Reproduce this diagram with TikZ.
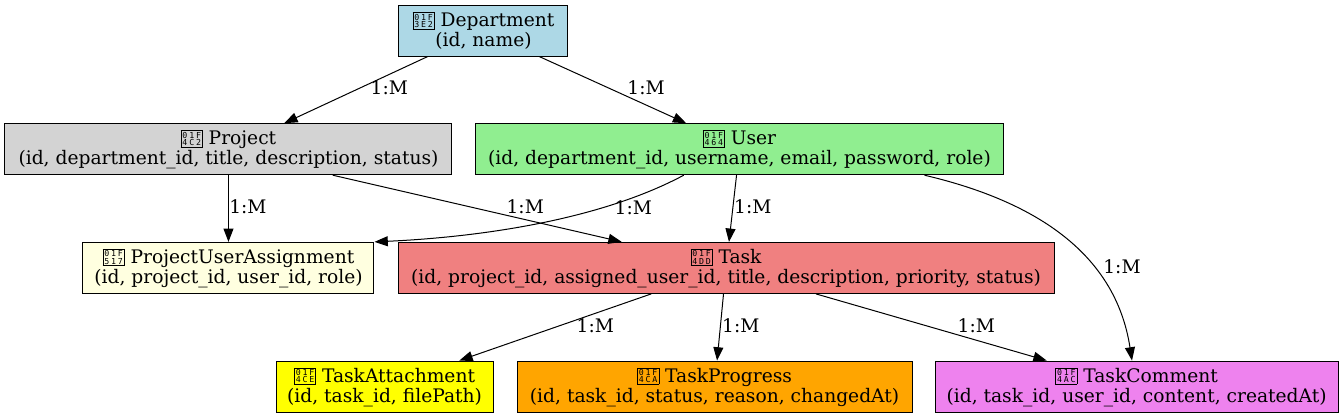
\documentclass[tikz,border=0pt]{standalone}
\usepackage{fontspec}
\setmainfont{DejaVu Serif}
\newfontfamily\tofufont[LetterSpace=22]{DejaVu Sans Mono}
\usetikzlibrary{arrows.meta}
\newcommand{\tofu}[2]{\rule{0pt}{11.5pt}\smash{\raisebox{-0.5pt}{\fboxsep=0.8pt\fboxrule=0.5pt\fbox{\vbox{\baselineskip=5.4pt\tofufont\fontsize{6.2}{5.4}\selectfont\hbox{#1}\hbox{#2}}}}}}
\tikzstyle{entity}=[rectangle,
	draw=black,
	line width=0.75pt,
	minimum height=38.25pt,
	inner sep=0pt,
	align=center,
	font=\fontsize{14}{15}\selectfont]
\tikzstyle{rel}=[-{Triangle[length=10pt,width=7.5pt]},
	line width=0.75pt]
\tikzstyle{card}=[font=\fontsize{14}{15}\selectfont,
	inner sep=0pt]
\begin{document}
\begin{tikzpicture}
	\useasboundingbox (-362.6pt,22.9pt) rectangle (644.6pt,-289.9pt);
	\node (department) [entity, fill={rgb,255:red,173;green,216;blue,230}, minimum width=126.75pt]{\tofu{01F}{3E2} Department\\(id, name)};

	\node (project) [entity, below of=department, node distance=89pt, xshift=-191.25pt, fill={rgb,255:red,211;green,211;blue,211}, minimum width=335.25pt]{\tofu{01F}{4C2} Project\\(id, department\_id, title, description, status)};
	\draw[rel] (department.205.5) -- node[card, xshift=25pt, yshift=1.5pt]{1:M} (project.25);
	\node (user) [entity, below of=department, node distance=89pt, xshift=192pt, fill={rgb,255:red,144;green,238;blue,144}, minimum width=395.25pt]{\tofu{01F}{464} User\\(id, department\_id, username, email, password, role)};
	\draw[rel] (department.-25.5) -- node[card, xshift=25pt, yshift=1.5pt]{1:M} (user.154.5);

	\node (assignment) [entity, below of=project, node distance=89pt, fill={rgb,255:red,255;green,255;blue,224}, minimum width=218.25pt]{\tofu{01F}{517} ProjectUserAssignment\\(id, project\_id, user\_id, role)};
	\draw[rel] (project) -- node[card, xshift=14.6pt, yshift=1.5pt]{1:M} (assignment);
	\draw[rel] (user.205.5) .. controls (87.4pt,-142.1pt) and (-2.6pt,-154.9pt) .. node[card, xshift=72pt, yshift=12pt]{1:M} (assignment.north east);

	\node (task) [entity, below of=user, node distance=89pt, xshift=-10.1pt, fill={rgb,255:red,240;green,128;blue,128}, minimum width=492pt]{\tofu{01F}{4DD} Task\\(id, project\_id, assigned\_user\_id, title, description, priority, status)};
	\draw[rel] (project.-14.5) -- node[card, xshift=36pt, yshift=1.5pt]{1:M} (task.166);
	\draw[rel] (user) -- node[card, xshift=15pt, yshift=1.5pt]{1:M} (task);

	\node (attachment) [entity, below of=task, node distance=89pt, xshift=-256.1pt, fill={rgb,255:red,255;green,255;blue,0}, minimum width=162.75pt]{\tofu{01F}{4CE} TaskAttachment\\(id, task\_id, filePath)};
	\draw[rel] (task) -- node[card, xshift=30pt, yshift=1.5pt]{1:M} (attachment);
	\node (progress) [entity, below of=task, node distance=89pt, xshift=-8.6pt, fill={rgb,255:red,255;green,165;blue,0}, minimum width=296.25pt]{\tofu{01F}{4CA} TaskProgress\\(id, task\_id, status, reason, changedAt)};
	\draw[rel] (task) -- node[card, xshift=15.4pt, yshift=1.5pt]{1:M} (progress);
	\node (comment) [entity, below of=task, node distance=89pt, xshift=307.9pt, fill={rgb,255:red,238;green,130;blue,238}, minimum width=302.25pt]{\tofu{01F}{4AC} TaskComment\\(id, task\_id, user\_id, content, createdAt)};
	\draw[rel] (task) -- node[card, xshift=33.75pt, yshift=1.5pt]{1:M} (comment);
	\draw[rel] (user.-8.9) .. controls (409.9pt,-127.1pt) and (473.6pt,-164.6pt) .. node[card, xshift=45.4pt, yshift=-23.5pt]{1:M} (comment.100);
\end{tikzpicture}
\end{document}
